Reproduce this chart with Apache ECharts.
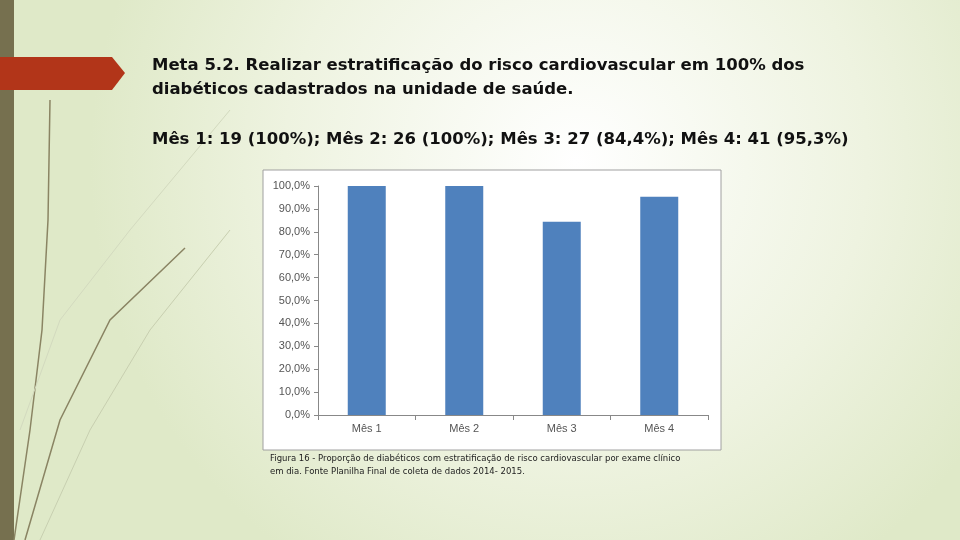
<!DOCTYPE html>
<html><head><meta charset="utf-8">
<script src="https://cdn.jsdelivr.net/npm/echarts@6/dist/echarts.min.js"></script>
<style>html,body{margin:0;padding:0}#c{width:960px;height:540px}</style>
</head><body><div id="c"></div>
<script>
const categories = ['Mês 1','Mês 2','Mês 3','Mês 4'];
const values = [100, 100, 84.4, 95.3];
const yTicks = [0,10,20,30,40,50,60,70,80,90,100];

const chart = echarts.init(document.getElementById('c'));
const txt = (x,y,t,s) => ({type:'text',x:x,y:y,style:Object.assign({text:t,fill:'#111',font:'bold 16.5px "DejaVu Sans", Arial'},s||{})});
chart.setOption({
  animation:false,
  graphic:[
    {type:'rect',shape:{x:0,y:0,width:960,height:540},z:-10,style:{fill:{type:'radial',x:0.6,y:0.3,r:0.9,colorStops:[{offset:0,color:'#ffffff'},{offset:0.6,color:'#eef3e0'},{offset:1,color:'#dfe9c8'}]}}},
    {type:'rect',shape:{x:0,y:0,width:14,height:540},z:-9,style:{fill:'#76704f'}},
    {type:'polygon',shape:{points:[[0,57],[112,57],[125,73],[112,90],[0,90]]},z:-8,style:{fill:'#b23519'}},
    {type:'polyline',shape:{points:[[14,540],[30,430],[42,330],[48,220],[50,100]]},z:-8,style:{stroke:'#8a8463',lineWidth:1.5,fill:null}},
    {type:'polyline',shape:{points:[[25,540],[60,420],[110,320],[185,248]]},z:-8,style:{stroke:'#8a8463',lineWidth:1.5,fill:null}},
    {type:'polyline',shape:{points:[[40,540],[90,430],[150,330],[230,230]]},z:-8,style:{stroke:'#c8cfb0',lineWidth:1,fill:null}},
    {type:'polyline',shape:{points:[[20,430],[60,320],[130,230],[230,110]]},z:-8,style:{stroke:'#d3dabf',lineWidth:1,fill:null}},
    txt(152,57,'Meta 5.2. Realizar estratificação do risco cardiovascular em 100% dos'),
    txt(152,81,'diabéticos cadastrados na unidade de saúde.'),
    txt(152,131,'Mês 1: 19 (100%); Mês 2: 26 (100%); Mês 3: 27 (84,4%); Mês 4: 41 (95,3%)'),
    {type:'rect',shape:{x:263,y:170,width:458,height:280},z:-5,style:{fill:'#ffffff',stroke:'#a0a0a0',lineWidth:1}},
    txt(270,454,'Figura 16 - Proporção de diabéticos com estratificação de risco cardiovascular por exame clínico',{font:'8.5px "DejaVu Sans", Arial',fill:'#222'}),
    txt(270,467,'em dia. Fonte Planilha Final de coleta de dados 2014- 2015.',{font:'8.5px "DejaVu Sans", Arial',fill:'#222'})
  ],
  grid:{left:318,right:252,top:186,bottom:125},
  xAxis:{type:'category',data:categories,axisLine:{lineStyle:{color:'#888'}},axisTick:{show:true,length:5,lineStyle:{color:'#888'}},
    axisLabel:{color:'#555',fontSize:11,fontFamily:'Liberation Sans'}},
  yAxis:{type:'value',min:0,max:100,interval:10,splitLine:{show:false},
    axisLine:{show:true,lineStyle:{color:'#888'}},axisTick:{show:true,length:4,lineStyle:{color:'#888'}},
    axisLabel:{color:'#555',fontSize:11,fontFamily:'Liberation Sans',formatter:v=>v.toFixed(1).replace('.',',')+'%'}},
  series:[{type:'bar',data:values,barWidth:38,itemStyle:{color:'#4f81bd'}}]
});
</script></body></html>
